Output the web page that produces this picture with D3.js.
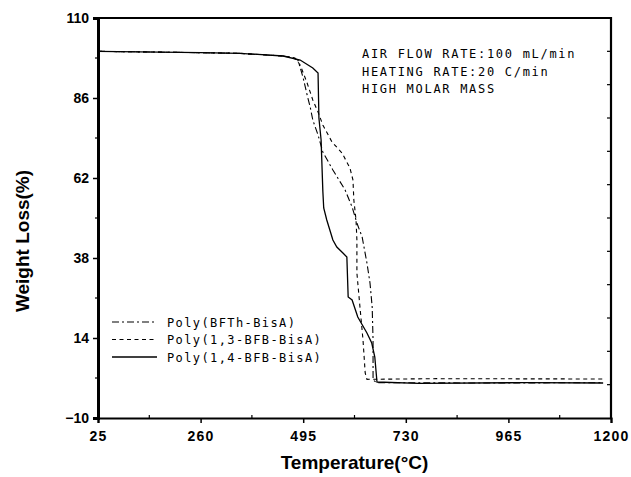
<!DOCTYPE html>
<html><head><meta charset="utf-8">
<script src="https://cdn.jsdelivr.net/npm/d3@7"></script>
<style>body{margin:0;background:#fff}</style>
</head><body>
<script>
const xTicks = [25, 260, 495, 730, 965, 1200];
const yTicks = [-10, 14, 38, 62, 86, 110];
const rightTicks = [0,10,20,30,40,50,60,70,80,90,100];
const seriesNames = ["Poly(BFTh-BisA)", "Poly(1,3-BFB-BisA)", "Poly(1,4-BFB-BisA)"];
const annotation = ["AIR FLOW RATE:100 mL/min", "HEATING RATE:20 C/min", "HIGH MOLAR MASS"];
const xLabel = "Temperature(\u00B0C)";
const yLabel = "Weight Loss(%)";

// [temperature, weight]
const bfth = [[25,100],[260,99.6],[350,99.4],[449,98.6],[465,98.3],[483,97.4],[495,92],[504,86.9],[511,83.3],[517,79.4],[529,74.9],[540,69.8],[563,64.4],[591,58.4],[607,53.3],[618,48.5],[630,44.3],[641,36.5],[648,30.5],[653,23.3],[655,13.4],[655,1.4],[664,0.6],[900,0.5],[1182,0.6]];
const bfb13 = [[25,100],[260,99.6],[350,99.4],[449,98.6],[476,98],[488,95.9],[504,90.5],[517,85.4],[529,81.8],[540,77.9],[561,72.8],[584,69.5],[602,65],[609,61.4],[611,55.4],[616,49.4],[618,43.4],[618,33.5],[625,23.3],[632,13.4],[637,3.5],[641,1.6],[800,1.8],[1182,1.7]];
const bfb14 = [[25,100],[260,99.6],[350,99.4],[449,98.6],[488,97.4],[517,95],[529,93.5],[531,80],[536,73.4],[540,58],[542,53],[549,49.4],[563,43.4],[572,41.3],[586,39.5],[595,38.3],[598,26.3],[607,25.4],[620,20.3],[641,15.5],[652,12.5],[659,8.3],[664,0.8],[760,0.4],[1000,0.6],[1182,0.5]];

const W = 631, H = 477;
const m = {l:98, r:611, t:18, b:418};
const svg = d3.select("body").append("svg").attr("width", W).attr("height", H)
  .style("font-family", "'Liberation Sans', Arial, sans-serif");

const x = d3.scaleLinear().domain([25,1200]).range([m.l, m.r]);
const y = d3.scaleLinear().domain([-10,110]).range([m.b, m.t]);

// frame
const frame = svg.append("g").attr("stroke", "#000").attr("fill", "none");
frame.append("line").attr("x1", m.l).attr("x2", m.r).attr("y1", m.t).attr("y2", m.t).attr("stroke-width", 2);
frame.append("line").attr("x1", m.r).attr("x2", m.r).attr("y1", m.t-1).attr("y2", m.b+1).attr("stroke-width", 2.2);

// left axis
const yAxis = d3.axisLeft(y).tickValues(yTicks).tickSize(5).tickPadding(4).tickFormat(d3.format("d"));
const gy = svg.append("g").attr("transform", `translate(${m.l},0)`).call(yAxis);
gy.select(".domain").attr("stroke-width", 3);
gy.selectAll(".tick line").attr("stroke-width", 1.5);
gy.selectAll(".tick text").attr("font-size", 14).attr("font-weight", "bold").attr("fill", "#000");
const yMinor = d3.range(2, 110, 24);
svg.append("g").selectAll("line").data(yMinor).join("line")
  .attr("x1", m.l-3).attr("x2", m.l).attr("y1", d => y(d)).attr("y2", d => y(d)).attr("stroke", "#000").attr("stroke-width", 1.2);

// bottom axis
const xAxis = d3.axisBottom(x).tickValues(xTicks).tickSize(5).tickPadding(8).tickFormat(d3.format("d"));
const gx = svg.append("g").attr("transform", `translate(0,${m.b})`).call(xAxis);
gx.select(".domain").attr("stroke-width", 2.2);
gx.selectAll(".tick line").attr("stroke-width", 1.5);
gx.selectAll(".tick text").attr("font-size", 14).attr("font-weight", "bold").attr("fill", "#000").attr("letter-spacing", 1.2);
const xMinor = d3.range(142.5, 1200, 235);
svg.append("g").selectAll("line").data(xMinor).join("line")
  .attr("x1", d => x(d)).attr("x2", d => x(d)).attr("y1", m.b).attr("y2", m.b-3).attr("stroke", "#000").attr("stroke-width", 1.2);

// right axis ticks (inward)
svg.append("g").selectAll("line").data(rightTicks).join("line")
  .attr("x1", m.r).attr("x2", m.r-4).attr("y1", d => y(d)).attr("y2", d => y(d)).attr("stroke", "#000").attr("stroke-width", 1.2);

// axis titles
svg.append("text").attr("x", (m.l+m.r)/2).attr("y", 469).attr("text-anchor", "middle")
  .attr("font-size", 19).attr("font-weight", "bold").text(xLabel);
svg.append("text").attr("transform", `translate(29,241) rotate(-90)`).attr("text-anchor", "middle")
  .attr("font-size", 19).attr("font-weight", "bold").text(yLabel);

// curves
const styles = [
  {data: bfth, dash: "7,3,2,3", w: 1.1},
  {data: bfb13, dash: "4,3.5", w: 1.1},
  {data: bfb14, dash: null, w: 1.3}
];
const line = d3.line().x(d => x(d[0])).y(d => y(d[1]));
styles.forEach(s => {
  svg.append("path").datum(s.data).attr("d", line).attr("fill", "none")
    .attr("stroke", "#000").attr("stroke-width", s.w).attr("stroke-dasharray", s.dash);
});

// annotation
const mono = "'DejaVu Sans Mono', monospace";
svg.append("g").selectAll("text").data(annotation).join("text")
  .attr("x", 362).attr("y", (d,i) => 58 + i*17.5)
  .attr("font-family", mono).attr("font-size", 12).attr("letter-spacing", 1.7)
  .text(d => d);

// legend
const leg = svg.append("g");
const legY = [322, 339.5, 357];
styles.forEach((s, i) => {
  leg.append("line").attr("x1", 112).attr("x2", 157).attr("y1", legY[i]).attr("y2", legY[i])
    .attr("stroke", "#000").attr("stroke-width", s.w).attr("stroke-dasharray", s.dash);
  leg.append("text").attr("x", 167).attr("y", legY[i] + 4.5)
    .attr("font-family", mono).attr("font-size", 12).attr("letter-spacing", 1.4)
    .text(seriesNames[i]);
});
</script>
</body></html>
